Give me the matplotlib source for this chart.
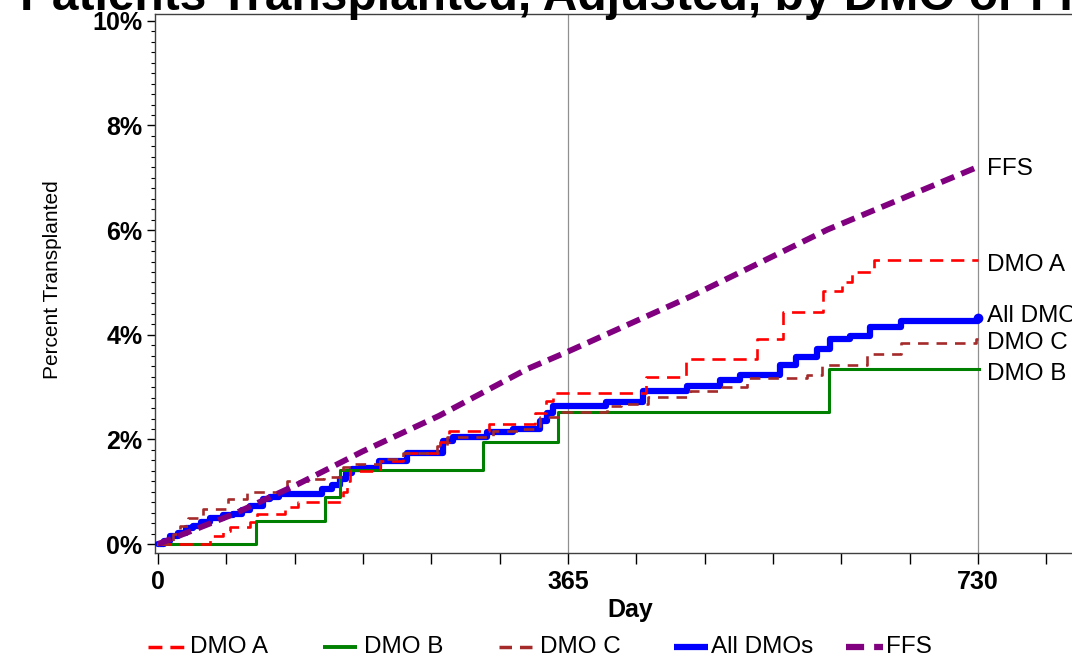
import numpy as np
import matplotlib
matplotlib.use("Agg")
import matplotlib.pyplot as plt
from matplotlib.lines import Line2D
from matplotlib.ticker import MultipleLocator, FixedLocator

plt.rcParams['font.family'] = ['Liberation Sans', 'DejaVu Sans']

# cumulative percent transplanted by day (step curves)
dmo_a_days = [0, 46, 58, 64, 82, 88, 113, 125, 165, 168, 171, 198, 218, 251, 259, 295,
              336, 345, 352, 434, 470, 533, 556, 592, 609, 618, 637, 730]
dmo_a_pct = [0, 0.15, 0.25, 0.32, 0.42, 0.57, 0.70, 0.80, 1.00, 1.20, 1.39, 1.58, 1.75, 1.95, 2.16, 2.29,
             2.50, 2.73, 2.88, 3.20, 3.53, 3.91, 4.43, 4.83, 5.00, 5.20, 5.42, 5.42]

dmo_b_days = [0, 87, 149, 162, 289, 356, 597, 731]
dmo_b_pct = [0, 0.44, 0.90, 1.42, 1.95, 2.52, 3.34, 3.34]

dmo_c_days = [0, 13, 20, 27, 40, 62, 79, 115, 135, 148, 165, 175, 198, 218, 248, 257, 298, 322,
              340, 358, 400, 412, 436, 474, 500, 524, 578, 591, 631, 661, 728, 730]
dmo_c_pct = [0, 0.19, 0.35, 0.50, 0.67, 0.86, 1.00, 1.20, 1.24, 1.28, 1.47, 1.53, 1.62, 1.75, 1.87, 2.04, 2.16, 2.20,
             2.42, 2.52, 2.63, 2.67, 2.82, 2.92, 3.00, 3.17, 3.24, 3.43, 3.63, 3.84, 3.92, 3.92]

all_days = [0, 5, 11, 18, 25, 31, 38, 46, 58, 67, 75, 82, 93, 100, 108, 146, 155, 162, 167, 173,
            180, 197, 222, 254, 263, 293, 316, 340, 346, 352, 399, 432, 471, 500, 518, 554,
            568, 587, 598, 616, 634, 661, 730]
all_pct = [0, 0.06, 0.15, 0.22, 0.30, 0.35, 0.43, 0.50, 0.55, 0.58, 0.66, 0.73, 0.86, 0.90, 0.95, 1.05, 1.12, 1.24, 1.35, 1.43,
           1.45, 1.58, 1.75, 1.97, 2.04, 2.14, 2.20, 2.35, 2.50, 2.63, 2.71, 2.92, 3.02, 3.13, 3.24, 3.43,
           3.57, 3.72, 3.91, 3.97, 4.14, 4.27, 4.27]

ffs_days = [0, 67, 124, 182, 250, 328, 365, 475, 596, 730]
ffs_pct = [0, 0.57, 1.14, 1.77, 2.45, 3.34, 3.68, 4.74, 6.01, 7.21]

end_labels = ['FFS', 'DMO A', 'All DMOs', 'DMO C', 'DMO B']
end_label_pct = [7.16, 5.34, 4.35, 3.85, 3.26]

legend_labels = ['DMO A', 'DMO B', 'DMO C', 'All DMOs', 'FFS']

W, H = 1072, 658
fig = plt.figure(figsize=(10.72, 6.58), dpi=100)
ax = fig.add_axes([155 / W, 1 - 553 / H, 950 / W, 539 / H])

ax.axvline(365, color='#909090', lw=0.9, zorder=1)
ax.axvline(730, color='#909090', lw=0.9, zorder=1)

ax.plot(all_days, all_pct, drawstyle='steps-post', color='#0000FF', lw=4.5,
        solid_capstyle='round', zorder=3)
ax.plot([all_days[-1]], [all_pct[-1] + 0.05], 'o', color='#0000FF', ms=6, zorder=3)
ax.plot(dmo_b_days, dmo_b_pct, drawstyle='steps-post', color='#008000', lw=2.2, zorder=4)
ax.plot(dmo_a_days, dmo_a_pct, drawstyle='steps-post', color='#FF0000', lw=1.9,
        dashes=(5, 3), zorder=5)
ax.plot(dmo_c_days, dmo_c_pct, drawstyle='steps-post', color='#A52A2A', lw=1.9,
        dashes=(4, 3), zorder=6)
ax.plot(ffs_days, ffs_pct, color='#800080', lw=4.2, dashes=(2.4, 1.3), zorder=7)

for lab, v in zip(end_labels, end_label_pct):
    ax.text(738, v, lab, fontsize=17.5, va='center', ha='left', clip_on=False)

ax.set_xlim(-2.7, 843)
ax.set_ylim(-0.17, 10.13)
ax.xaxis.set_major_locator(FixedLocator([0, 365, 730]))
ax.xaxis.set_minor_locator(MultipleLocator(365 / 6))
ax.yaxis.set_major_locator(MultipleLocator(2))
ax.yaxis.set_minor_locator(MultipleLocator(0.2))
ax.set_yticklabels([f'{int(t)}%' for t in ax.get_yticks()])
ax.tick_params(axis='x', which='both', length=8, width=1, direction='out', pad=4,
               labelsize=18)
ax.tick_params(axis='y', which='major', length=6, width=1, direction='out', pad=3,
               labelsize=18)
ax.tick_params(axis='y', which='minor', length=3, width=0.8, direction='out')
for t in ax.get_xticklabels() + ax.get_yticklabels():
    t.set_fontweight('bold')
for s in ax.spines.values():
    s.set_color('#404040')
    s.set_linewidth(1.0)

fig.text(630 / W, 1 - 610 / H, 'Day', fontsize=18, fontweight='bold',
         ha='center', va='center')
fig.text(53 / W, 1 - 280 / H, 'Percent Transplanted', fontsize=15,
         rotation=90, ha='center', va='center')
fig.text(20 / W, 1 - 9.5 / H, 'Patients Transplanted, Adjusted, by DMO or FFS',
         fontsize=34.5, fontweight='bold', ha='left', va='baseline')

# legend drawn with fixed column positions (pixels)
leg_y = 1 - 647 / H
leg_handles = [
    dict(x0=148, x1=185, color='#FF0000', lw=2.5, dashes=(4.0, 2.3)),
    dict(x0=323, x1=357, color='#008000', lw=2.8, dashes=None),
    dict(x0=499, x1=532, color='#A52A2A', lw=2.5, dashes=(3.6, 2.3)),
    dict(x0=674, x1=708, color='#0000FF', lw=4.5, dashes=None),
    dict(x0=846, x1=883, color='#800080', lw=4.5, dashes=(2.9, 1.6)),
]
leg_text_x = [190, 364, 540, 711, 886]
for h, lab, tx in zip(leg_handles, legend_labels, leg_text_x):
    line = Line2D([h['x0'] / W, h['x1'] / W], [leg_y, leg_y], transform=fig.transFigure,
                  color=h['color'], lw=h['lw'], solid_capstyle='butt', dash_capstyle='butt')
    if h['dashes'] is not None:
        line.set_dashes(h['dashes'])
    fig.add_artist(line)
    fig.text(tx / W, leg_y, lab, fontsize=17.5, ha='left', va='center')

fig.savefig('out.png', dpi=100)
